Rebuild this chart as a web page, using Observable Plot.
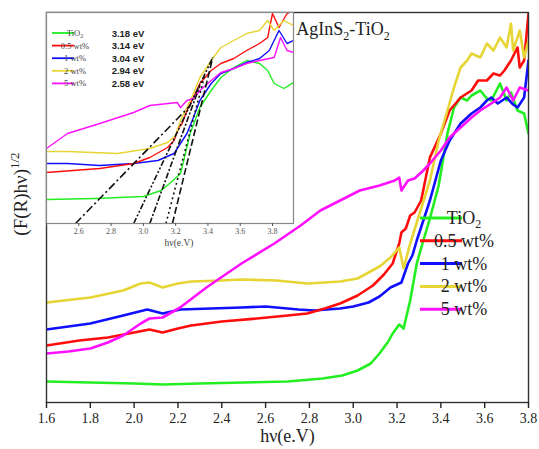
<!DOCTYPE html>
<html><head><meta charset="utf-8">
<script src="https://cdn.jsdelivr.net/npm/d3@7"></script>
<script src="https://cdn.jsdelivr.net/npm/@observablehq/plot@0.6"></script>
<style>
body{margin:0;background:#fff;}
#wrap{position:relative;width:539px;height:449px;overflow:hidden;}
#wrap svg{position:absolute;overflow:visible;}
#wrap svg text{font-family:"Liberation Serif","Times New Roman",serif;}
#wrap svg text.bold-sans{font-family:"Liberation Sans",Arial,sans-serif;}
</style></head><body><div id="wrap"></div>
<script>
// ---------- data ----------
const seriesNames = ["TiO2", "0.5 wt%", "1 wt%", "2 wt%", "5 wt%"];
const seriesColors = ["#22ee22", "#ff0d0d", "#1010ff", "#e6d535", "#ff10ff"];
const bandGaps = [3.18, 3.14, 3.04, 2.94, 2.58];
const bandGapLabels = ["3.18 eV", "3.14 eV", "3.04 eV", "2.94 eV", "2.58 eV"];
const xTicks = [1.6, 1.8, 2.0, 2.2, 2.4, 2.6, 2.8, 3.0, 3.2, 3.4, 3.6, 3.8];
const insetTicks = [2.4, 2.6, 2.8, 3.0, 3.2, 3.4, 3.6, 3.8];

// main panel (arbitrary units)
const tio2E = [1.6,1.8,2.0,2.13,2.3,2.5,2.7,2.86,2.95,3.02,3.08,3.12,3.16,3.18,3.21,3.23,3.26,3.29,3.32,3.35,3.39,3.43,3.46,3.49,3.52,3.54,3.58,3.61,3.63,3.67,3.70,3.72,3.75,3.78,3.80];
const tio2V = [0.21,0.20,0.19,0.18,0.19,0.20,0.21,0.24,0.27,0.32,0.39,0.49,0.61,0.69,0.78,0.74,1.02,1.39,1.62,1.84,2.17,2.69,2.95,3.05,3.02,3.07,3.12,3.04,3.02,3.19,3.02,3.10,2.92,2.89,2.69];
const w05E = [1.6,1.75,1.88,2.0,2.07,2.13,2.2,2.26,2.4,2.56,2.7,2.79,2.87,2.94,3.02,3.09,3.14,3.18,3.21,3.22,3.24,3.26,3.28,3.31,3.35,3.40,3.44,3.49,3.54,3.57,3.61,3.64,3.67,3.69,3.72,3.75,3.76,3.78,3.80];
const w05V = [0.57,0.62,0.65,0.70,0.73,0.70,0.74,0.77,0.81,0.84,0.87,0.89,0.94,0.99,1.07,1.17,1.28,1.39,1.59,1.70,1.74,1.87,1.90,2.02,2.45,2.69,2.92,3.05,3.12,3.22,3.22,3.29,3.27,3.32,3.42,3.55,3.35,3.42,3.89];
const w1E = [1.6,1.7,1.8,1.95,2.06,2.13,2.21,2.35,2.49,2.6,2.75,2.82,2.88,2.94,3.0,3.07,3.12,3.17,3.22,3.25,3.27,3.29,3.32,3.35,3.40,3.44,3.49,3.54,3.58,3.61,3.63,3.66,3.70,3.73,3.75,3.78,3.80];
const w1V = [0.73,0.76,0.79,0.87,0.93,0.89,0.93,0.94,0.95,0.96,0.93,0.92,0.93,0.94,0.96,1.00,1.06,1.15,1.20,1.39,1.47,1.62,1.82,2.02,2.42,2.62,2.79,2.89,2.95,3.02,3.05,2.99,3.05,2.98,2.95,3.05,3.42];
const w2E = [1.6,1.8,1.95,2.03,2.07,2.13,2.2,2.26,2.4,2.49,2.65,2.79,2.87,2.94,3.02,3.07,3.12,3.17,3.21,3.23,3.26,3.30,3.35,3.39,3.43,3.46,3.49,3.52,3.54,3.58,3.61,3.64,3.67,3.70,3.72,3.73,3.76,3.78,3.80];
const w2V = [1.00,1.05,1.12,1.19,1.20,1.15,1.19,1.21,1.22,1.23,1.22,1.19,1.20,1.21,1.24,1.30,1.36,1.45,1.55,1.34,1.59,1.87,2.22,2.62,2.92,3.15,3.35,3.42,3.49,3.45,3.59,3.52,3.65,3.55,3.79,3.52,3.72,3.45,3.62];
const w5E = [1.6,1.7,1.8,1.88,1.95,2.03,2.07,2.13,2.21,2.33,2.49,2.64,2.76,2.85,2.94,3.03,3.12,3.19,3.21,3.22,3.25,3.28,3.32,3.35,3.40,3.44,3.49,3.54,3.58,3.63,3.67,3.70,3.73,3.76,3.80];
const w5V = [0.49,0.51,0.54,0.60,0.67,0.79,0.84,0.85,0.95,1.15,1.39,1.59,1.77,1.92,2.02,2.12,2.17,2.22,2.25,2.12,2.22,2.24,2.32,2.39,2.52,2.65,2.75,2.85,2.92,2.99,3.05,3.15,3.02,3.15,3.12];

// inset panel (arbitrary units)
const inTio2E = [2.40,2.70,3.00,3.11,3.17,3.23,3.25,3.29,3.35,3.42,3.48,3.56,3.64,3.72,3.77,3.81,3.87,3.93];
const inTio2V = [0.24,0.25,0.27,0.33,0.41,0.50,0.63,0.90,1.16,1.33,1.46,1.56,1.63,1.60,1.53,1.40,1.35,1.41];
const in05E = [2.40,2.73,2.94,3.04,3.15,3.19,3.22,3.24,3.27,3.31,3.35,3.42,3.48,3.56,3.64,3.72,3.77,3.80,3.84,3.89,3.93];
const in05V = [0.51,0.55,0.60,0.66,0.76,0.83,0.96,1.00,1.13,1.26,1.40,1.53,1.60,1.65,1.73,1.80,1.86,2.10,1.96,2.10,2.13];
const in1E = [2.40,2.53,2.73,2.94,3.09,3.19,3.23,3.27,3.31,3.35,3.42,3.48,3.56,3.64,3.72,3.78,3.84,3.89,3.93];
const in1V = [0.60,0.60,0.58,0.60,0.63,0.70,0.80,0.90,1.06,1.23,1.40,1.50,1.55,1.61,1.65,1.73,1.93,1.80,1.83];
const in2E = [2.40,2.53,2.84,3.04,3.15,3.20,3.23,3.27,3.31,3.35,3.42,3.48,3.56,3.64,3.72,3.77,3.81,3.87,3.93];
const in2V = [0.72,0.72,0.70,0.75,0.81,0.88,1.03,1.16,1.30,1.46,1.63,1.76,1.83,1.90,1.93,2.03,1.93,2.03,1.98];
const in5E = [2.40,2.53,2.73,2.94,3.04,3.21,3.23,3.27,3.31,3.35,3.42,3.48,3.56,3.64,3.72,3.81,3.85,3.89,3.93];
const in5V = [0.75,0.90,1.00,1.11,1.18,1.21,1.16,1.23,1.25,1.33,1.43,1.51,1.55,1.60,1.63,1.66,1.86,1.73,1.71];

// tangent (Tauc) line upper ends, inset units
const tangentEndE = [3.43, 3.38, 3.35, 3.43, 3.29];
const tangentEndV = [1.66, 1.48, 1.38, 1.66, 1.18];
const tangentDash = ["7,3", "2,3", "6,2,2,2", "6,2,2,2,2,2", "8,3,2,3"];

// ---------- build ----------
const serif = "Liberation Serif, Times New Roman, serif";
const mainSets = [[tio2E,tio2V],[w05E,w05V],[w1E,w1V],[w2E,w2V],[w5E,w5V]];
const insetSets = [[inTio2E,inTio2V],[in05E,in05V],[in1E,in1V],[in2E,in2V],[in5E,in5V]];
const toRows = ([e, v]) => e.map((d, i) => ({e: d, v: v[i]}));
const drawOrder = [0, 2, 1, 3, 4];

const wrap = document.getElementById("wrap");

const main = Plot.plot({
  width: 539, height: 449,
  marginLeft: 46, marginRight: 11, marginTop: 12, marginBottom: 47,
  style: {fontFamily: serif, background: "transparent", color: "#222", overflow: "visible"},
  x: {domain: [1.6, 3.8]},
  y: {domain: [0, 3.9], axis: null},
  marks: [
    ...drawOrder.map(k => Plot.line(toRows(mainSets[k]), {x: "e", y: "v", stroke: seriesColors[k], strokeWidth: 2.6, clip: true})),
    Plot.frame({stroke: "#333", strokeWidth: 1.4}),
    Plot.axisX({ticks: xTicks, tickFormat: d => d.toFixed(1), tickSize: 6, tickPadding: 5, fontSize: 14, fontFamily: serif, label: null, strokeWidth: 1.4}),
    Plot.text(["hν(e.V)"], {frameAnchor: "bottom", dy: 39, fontSize: 18, fontFamily: serif, fill: "#222"})
  ]
});
main.style.left = "0px"; main.style.top = "0px";
wrap.appendChild(main);

const inset = Plot.plot({
  width: 249, height: 240,
  marginLeft: 1, marginRight: 1, marginTop: 1, marginBottom: 28,
  style: {fontFamily: serif, background: "transparent", color: "#555", overflow: "visible"},
  x: {domain: [2.4, 3.93]},
  y: {domain: [0, 2.11], axis: null},
  marks: [
    Plot.frame({fill: "white", stroke: "none"}),
    ...drawOrder.map(k => Plot.line(toRows(insetSets[k]), {x: "e", y: "v", stroke: seriesColors[k], strokeWidth: 1.4, clip: true})),
    ...bandGaps.map((g, k) => Plot.link([k], {x1: () => g, y1: () => 0, x2: () => tangentEndE[k], y2: () => tangentEndV[k], stroke: "#111", strokeWidth: 1.6, strokeDasharray: tangentDash[k]})),
    Plot.frame({stroke: "#888", strokeWidth: 1.2}),
    Plot.axisX({ticks: insetTicks, tickFormat: d => d < 2.5 ? "" : d.toFixed(1), tickSize: 3, tickPadding: 2, fontSize: 8, fontFamily: serif, label: null}),
    Plot.text(["hν(e.V)"], {frameAnchor: "bottom", dy: 22, dx: 9, fontSize: 9.5, fontFamily: serif, fill: "#444"})
  ]
});
inset.style.left = "45px"; inset.style.top = "11px";
wrap.appendChild(inset);

// subscript helper
function addName(textSel, name, subSize) {
  if (name === "TiO2") {
    textSel.append("tspan").text("TiO");
    textSel.append("tspan").attr("font-size", subSize).attr("dy", subSize * 0.35).text("2");
  } else textSel.text(name);
}

// main legend
const ms = d3.select(main);
const lg = ms.append("g").attr("font-family", serif).attr("font-size", 18).attr("fill", "#222");
seriesNames.forEach((n, k) => {
  const y = 218 + k * 22.8;
  lg.append("line").attr("x1", 420).attr("x2", 462).attr("y1", y).attr("y2", y)
    .attr("stroke", seriesColors[k]).attr("stroke-width", 3);
  addName(lg.append("text").attr("x", 464).attr("y", y + 6), n, 12);
});

// title
const t = ms.append("text").attr("x", 343).attr("y", 35).attr("font-family", serif).attr("font-size", 18).attr("fill", "#222");
t.append("tspan").text("AgInS");
t.append("tspan").attr("font-size", 12).attr("dy", 5).text("2");
t.append("tspan").attr("dy", -5).text("-TiO");
t.append("tspan").attr("font-size", 12).attr("dy", 5).text("2");

// y label
const yl = ms.append("text").attr("transform", "translate(27,194) rotate(-90)").attr("text-anchor", "middle")
  .attr("font-family", serif).attr("font-size", 19).attr("fill", "#222");
yl.append("tspan").text("(F(R)hν)");
yl.append("tspan").attr("font-size", 13).attr("dy", -8).text("1/2");

// inset legend
const is = d3.select(inset);
const ilg = is.append("g").attr("font-size", 8.5);
seriesNames.forEach((n, k) => {
  const y = 22 + k * 12.6;
  ilg.append("line").attr("x1", 7).attr("x2", 29).attr("y1", y).attr("y2", y)
    .attr("stroke", seriesColors[k]).attr("stroke-width", 1.8);
  addName(ilg.append("text").attr("x", 30).attr("y", y + 3).attr("font-family", serif).attr("fill", "#444"), n, 6);
  ilg.append("text").attr("class", "bold-sans").attr("x", 83).attr("y", y + 3.5)
    .attr("font-weight", "bold").attr("font-size", 9.5).attr("fill", "#222").text(bandGapLabels[k]);
});
</script></body></html>
